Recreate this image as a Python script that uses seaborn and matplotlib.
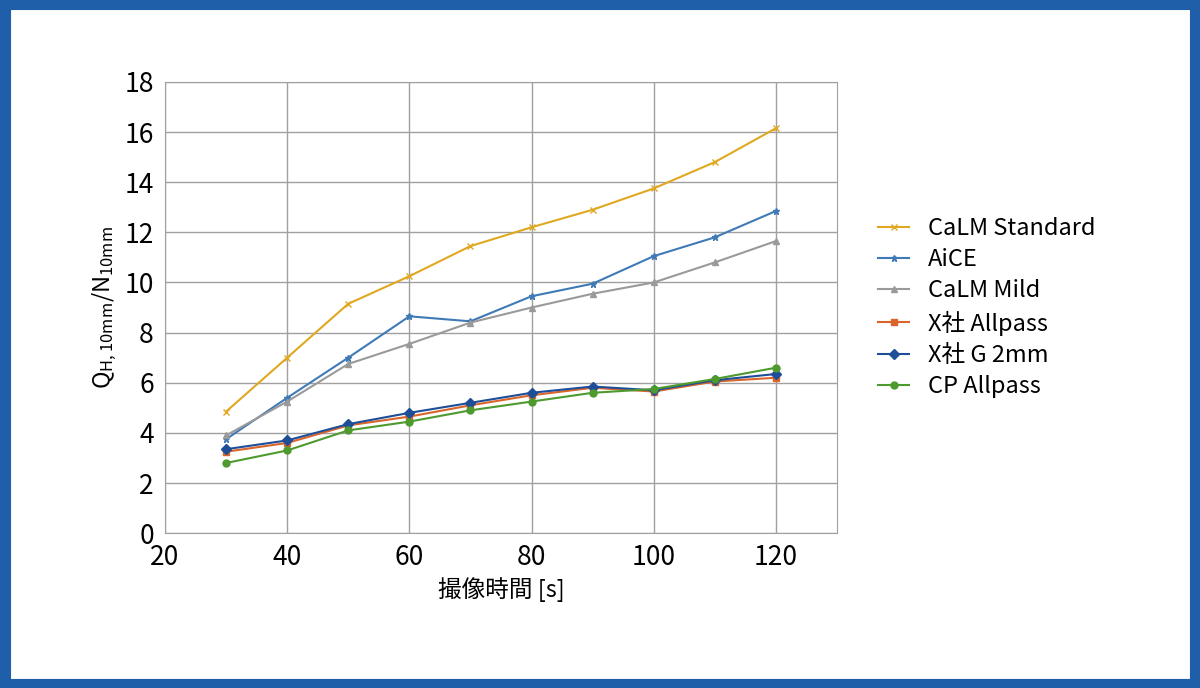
import matplotlib
matplotlib.use("Agg")
import matplotlib.pyplot as plt
import seaborn as sns
import pandas as pd
from matplotlib.patches import Rectangle

plt.rcParams["font.family"] = "Noto Sans CJK JP"
plt.rcParams["mathtext.fontset"] = "custom"
plt.rcParams["mathtext.rm"] = "Noto Sans CJK JP"
plt.rcParams["mathtext.it"] = "Noto Sans CJK JP"

times = [30, 40, 50, 60, 70, 80, 90, 100, 110, 120]
calm_standard = [4.85, 7.0, 9.15, 10.25, 11.45, 12.2, 12.9, 13.75, 14.8, 16.15]
aice = [3.75, 5.4, 7.0, 8.65, 8.45, 9.45, 9.95, 11.05, 11.8, 12.85]
calm_mild = [3.9, 5.25, 6.75, 7.55, 8.4, 9.0, 9.55, 10.0, 10.8, 11.65]
x_allpass = [3.25, 3.6, 4.3, 4.65, 5.1, 5.5, 5.8, 5.65, 6.05, 6.2]
x_g2mm = [3.35, 3.7, 4.35, 4.8, 5.2, 5.6, 5.85, 5.7, 6.1, 6.35]
cp_allpass = [2.8, 3.3, 4.1, 4.45, 4.9, 5.25, 5.6, 5.75, 6.15, 6.6]

series = ["CaLM Standard", "AiCE", "CaLM Mild", "X社 Allpass", "X社 G 2mm", "CP Allpass"]
values = [calm_standard, aice, calm_mild, x_allpass, x_g2mm, cp_allpass]
colors = ["#E0A820", "#3F7AB6", "#9A9A9A", "#D9652B", "#1F4E99", "#4E9A2F"]
markers = ["x", "*", "^", "s", "D", "o"]

fig = plt.figure(figsize=(12, 6.88), dpi=100)
fig.patches.append(Rectangle((0.004, 0.006), 0.992, 0.988, transform=fig.transFigure,
                             fill=False, edgecolor="#1F5FAA", linewidth=8))
ax = fig.add_axes([0.1375, 0.225, 0.56, 0.656])
for name, vals, c, m in zip(series, values, colors, markers):
    df = pd.DataFrame({"t": times, "v": vals})
    sns.lineplot(data=df, x="t", y="v", color=c, marker=m, markersize=5,
                 markeredgewidth=1, markeredgecolor=c, linewidth=1.5, label=name, ax=ax)
ax.set_xlim(20, 130)
ax.set_ylim(0, 18)
ax.set_xticks(range(20, 121, 20))
ax.set_yticks(range(0, 19, 2))
ax.grid(True, color="#A0A0A0", linewidth=1)
ax.set_axisbelow(True)
for s in ax.spines.values():
    s.set_color("#A0A0A0")
ax.tick_params(length=0, labelsize=19, pad=8)
ax.set_xlabel("撮像時間 [s]", fontsize=17)
ax.set_ylabel(r"$\mathrm{Q_{H,10mm}/N_{10mm}}$", fontsize=17)
ax.legend(frameon=False, fontsize=17, loc="center left", bbox_to_anchor=(1.03, 0.5),
          handlelength=1.3, labelspacing=0.35)
fig.savefig("out.png", dpi=100)
